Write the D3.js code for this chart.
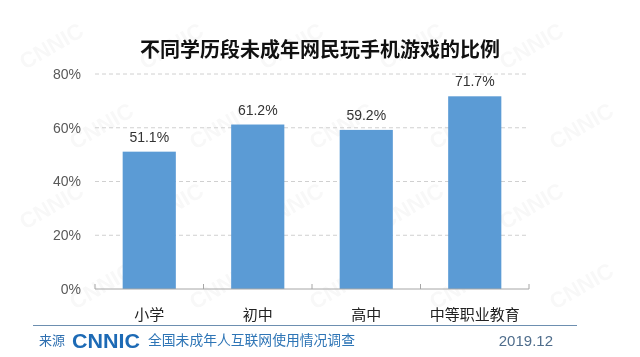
<!DOCTYPE html>
<html><head><meta charset="utf-8">
<script src="https://cdn.jsdelivr.net/npm/d3@7"></script>
<style>html,body{margin:0;padding:0;background:#fff;}svg{display:block;}</style>
</head><body>
<script>
const categories = ["小学", "初中", "高中", "中等职业教育"];
const values = [51.1, 61.2, 59.2, 71.7];
const yTicks = [0, 20, 40, 60, 80];
const title = "不同学历段未成年网民玩手机游戏的比例";
const sourceLabel = "来源";
const sourceName = "全国未成年人互联网使用情况调查";
const dateLabel = "2019.12";

const W = 640, H = 357;
const svg = d3.select("body").append("svg").attr("width", W).attr("height", H);
const cjk = "'Noto Sans CJK SC', 'Noto Sans', sans-serif";
const lat = "'Liberation Sans', Arial, sans-serif";

// faint watermark, kept inside the canvas
const wm = svg.append("g").attr("fill", "#000").attr("opacity", 0.03)
  .attr("font-family", lat).attr("font-weight", "bold").attr("font-size", 22);
for (let r = 0; r < 4; r++) {
  for (let c = 0; c < 5; c++) {
    const x = c * 120 + 25 + (r % 2) * 50, y = r * 80 + 70;
    wm.append("text").attr("transform", `translate(${x},${y}) rotate(-30)`).text("CNNIC");
  }
}

const x = d3.scaleBand().domain(categories).range([95, 529]).paddingInner(0.51).paddingOuter(0.255);
const y = d3.scaleLinear().domain([0, 80]).range([289, 74]);

// title
svg.append("text").attr("x", 320).attr("y", 57).attr("text-anchor", "middle")
  .attr("font-family", cjk).attr("font-weight", "bold").attr("font-size", 20)
  .attr("fill", "#111").text(title);

// gridlines
svg.append("g").selectAll("line").data(yTicks.filter(d => d > 0)).join("line")
  .attr("x1", 95).attr("x2", 529).attr("y1", d => y(d)).attr("y2", d => y(d))
  .attr("stroke", "#d0d0d0").attr("stroke-dasharray", "4,3");

// y axis labels
const yAxis = d3.axisLeft(y).tickValues(yTicks).tickFormat(d => d + "%").tickSize(0).tickPadding(0);
const yg = svg.append("g").attr("transform", "translate(81,0)").call(yAxis);
yg.select(".domain").remove();
yg.selectAll("text").attr("font-family", lat).attr("font-size", 14).attr("fill", "#595959");

// bars
svg.append("g").selectAll("rect").data(values).join("rect")
  .attr("x", (d, i) => x(categories[i])).attr("width", x.bandwidth())
  .attr("y", d => y(d)).attr("height", d => y(0) - y(d)).attr("fill", "#5b9bd5");

// value labels
svg.append("g").selectAll("text").data(values).join("text")
  .attr("x", (d, i) => x(categories[i]) + x.bandwidth() / 2).attr("y", d => y(d) - 10)
  .attr("text-anchor", "middle").attr("font-family", lat).attr("font-size", 14)
  .attr("fill", "#333").text(d => d.toFixed(1) + "%");

// x axis
svg.append("line").attr("x1", 95).attr("x2", 529).attr("y1", y(0)).attr("y2", y(0)).attr("stroke", "#a6a6a6");
const step = x.step();
const bounds = d3.range(categories.length + 1).map(i => 95 + i * step);
svg.append("g").selectAll("line").data(bounds).join("line")
  .attr("x1", d => d).attr("x2", d => d).attr("y1", y(0)).attr("y2", y(0) - 5).attr("stroke", "#a6a6a6");

// category labels
svg.append("g").selectAll("text").data(categories).join("text")
  .attr("x", d => x(d) + x.bandwidth() / 2).attr("y", 320).attr("text-anchor", "middle")
  .attr("font-family", cjk).attr("font-size", 15).attr("fill", "#222").text(d => d);

// footer
svg.append("line").attr("x1", 33).attr("x2", 577).attr("y1", 325.5).attr("y2", 325.5).attr("stroke", "#6d8fb0").attr("stroke-width", 1);
svg.append("text").attr("x", 39).attr("y", 345).attr("font-family", cjk).attr("font-size", 13)
  .attr("fill", "#2e6fb0").text(sourceLabel);
svg.append("text").attr("x", 72).attr("y", 348).attr("font-family", lat).attr("font-weight", "bold")
  .attr("font-size", 21).attr("textLength", 68).attr("lengthAdjust", "spacingAndGlyphs")
  .attr("fill", "#1d6ab5").text("CNNIC");
svg.append("text").attr("x", 148).attr("y", 345).attr("font-family", cjk).attr("font-size", 13.8)
  .attr("fill", "#2e75b6").text(sourceName);
svg.append("text").attr("x", 553).attr("y", 346).attr("text-anchor", "end").attr("font-family", lat)
  .attr("font-size", 15).attr("fill", "#4f6d8c").text(dateLabel);
</script>
</body></html>
